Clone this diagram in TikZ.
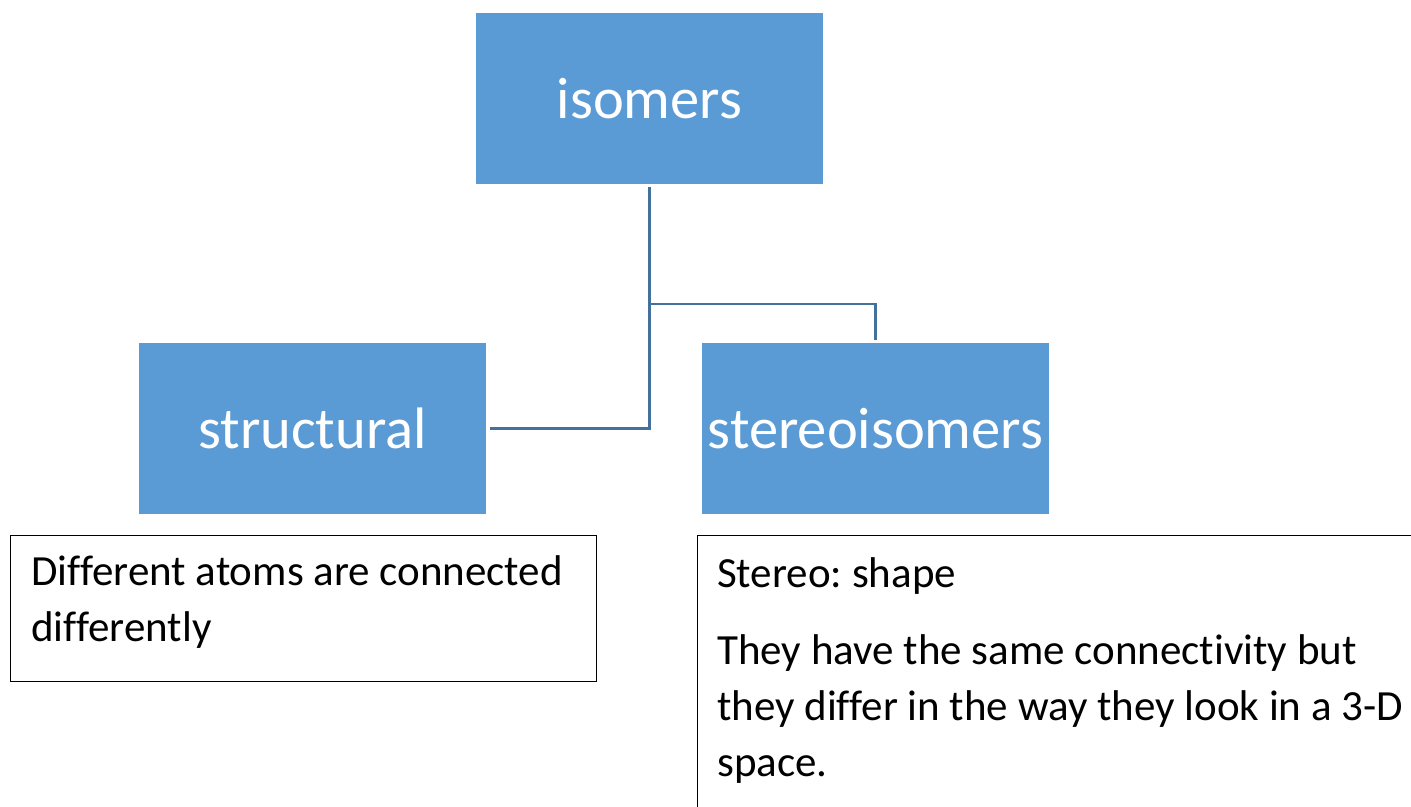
\documentclass[tikz,border=0pt]{standalone}
\usepackage{fontspec}
\setmainfont[Ligatures=NoCommon]{Carlito}
\frenchspacing
\definecolor{boxblue}{HTML}{5B9BD5}
\definecolor{connblue}{HTML}{41719C}
\tikzset{
  bluebox/.style={fill=boxblue, draw=none, inner sep=0pt, minimum width=347pt, minimum height=171pt,
    text=white, font=\fontsize{58.5}{70}\selectfont},
  conn/.style={draw=connblue, line width=2.2pt},
  notebox/.style={draw=black, line width=1.2pt, inner sep=0pt},
  notetext/.style={anchor=base west, inner sep=0pt, font=\fontsize{43}{56}\selectfont, text=black}
}
\begin{document}
\begin{tikzpicture}[x=1pt,y=-1pt]
\useasboundingbox (0,0) rectangle (1411,806);
\clip (0,0) rectangle (1411,806);
\fill[white] (0,0) rectangle (1411,806);
% main boxes
\node[bluebox] (isomers) at (649.5,98.5) {isomers};
\node[bluebox] (structural) at (312.5,428.5) {structural};
\node[bluebox] (stereo) at (875.5,428.5) {stereoisomers};
% connectors
\coordinate (junction) at (650,304);
\draw[conn, shorten <=3pt, shorten >=4pt] (isomers.south) -- (isomers.south |- structural.east) -- (structural.east);
\draw[conn, shorten >=3pt] (junction) -| (stereo.north);
% note boxes
\node[notebox, anchor=north west, minimum width=586pt, minimum height=146pt] (leftnote) at (10,535) {};
\node[notebox, anchor=north west, minimum width=740pt, minimum height=300pt] (rightnote) at (697,535) {};
% texts
\node[notetext] (l1) at (31,585) {Different atoms are connected};
\node[notetext] (l2) at (31,641) {differently};
\node[notetext] (r1) at (717,587) {Stereo: shape};
\node[notetext] (r2) at (717,664) {They have the same connectivity but};
\node[notetext] (r3) at (717,720) {they differ in the way they look in a 3-D};
\node[notetext] (r4) at (717,776) {space.};
\end{tikzpicture}
\end{document}
